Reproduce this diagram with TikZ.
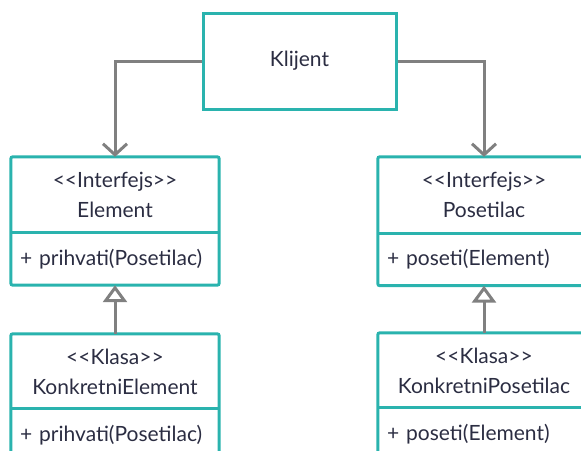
\documentclass[tikz,border=0pt]{standalone}
\usepackage{fontspec}
\setmainfont{Lato}
\usetikzlibrary{arrows.meta}
\definecolor{teal}{HTML}{2AB3AE}
\definecolor{conn}{HTML}{808080}
\definecolor{txt}{HTML}{2B2D42}
\begin{document}
\begin{tikzpicture}[x=1pt,y=-1pt,
  every node/.style={text=txt,font=\fontsize{21}{30}\selectfont,inner sep=0pt},
  box/.style={draw=teal,line width=3pt,fill=white},
  hdr/.style={minimum width=208pt,minimum height=76pt,align=center},
  meth/.style={minimum width=208pt,minimum height=52pt,text width=190pt,align=left},
  frame/.style={draw=teal,line width=3pt,rounded corners=2pt},
  link/.style={draw=conn,line width=3pt,-{Straight Barb[length=11pt,width=24pt,line width=3pt]}},
  inherit/.style={draw=conn,line width=3pt,-{Triangle[open,length=17pt,width=24pt,line width=3pt,fill=white]}}
]
\useasboundingbox (0,0) rectangle (581,450);
\clip (0,0) rectangle (581,450);
\node[box,minimum width=193pt,minimum height=96pt] (kl) at (299.5,61) {Klijent};
% Element
\node[hdr] (elh) at (115,195) {<{}<Interfejs>{}>\\Element};
\node[meth] (elm) at (115,259) {+ prihvati(Posetilac)};
\draw[frame] (elh.north west) rectangle (elm.south east);
\draw[frame] (elm.north west) -- (elm.north east);
% Posetilac
\node[hdr,minimum width=212pt] (poh) at (484,195) {<{}<Interfejs>{}>\\Posetilac};
\node[meth,minimum width=212pt,text width=194pt] (pom) at (484,259.5) {+ poseti(Element)};
\draw[frame] (poh.north west) rectangle (pom.south east);
\draw[frame] (pom.north west) -- (pom.north east);
% KonkretniElement
\node[hdr,minimum height=75pt] (keh) at (115,371.5) {<{}<Klasa>{}>\\KonkretniElement};
\node[meth] (kem) at (115,435) {+ prihvati(Posetilac)};
\draw[frame] (keh.north west) rectangle (kem.south east);
\draw[frame] (kem.north west) -- (kem.north east);
% KonkretniPosetilac
\node[hdr,minimum width=212pt,minimum height=75pt] (kph) at (484,370.5) {<{}<Klasa>{}>\\KonkretniPosetilac};
\node[meth,minimum width=212pt,text width=194pt] (kpm) at (484,434) {+ poseti(Element)};
\draw[frame] (kph.north west) rectangle (kpm.south east);
\draw[frame] (kpm.north west) -- (kpm.north east);
% connectors
\draw[link] (kl.west) -| (elh.north);
\draw[link] (kl.east) -| (poh.north);
\draw[inherit] (keh.north) -- (elm.south);
\draw[inherit] (kph.north) -- (pom.south);
\end{tikzpicture}
\end{document}
